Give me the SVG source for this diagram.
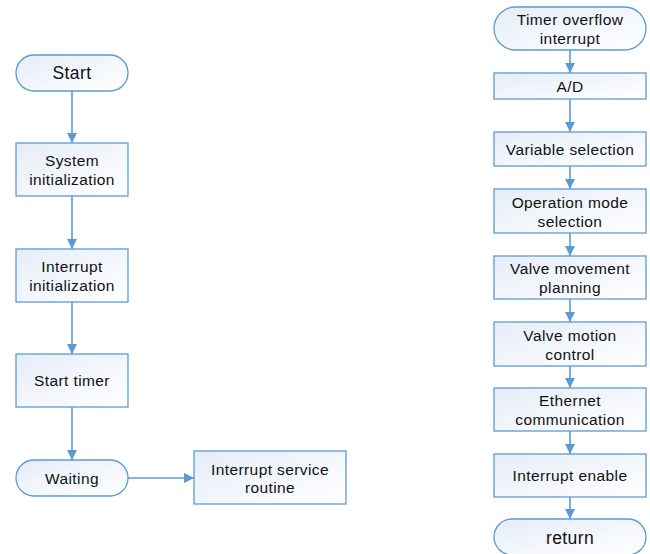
<svg xmlns="http://www.w3.org/2000/svg" width="650" height="554" viewBox="0 0 650 554">
<defs>
<linearGradient id="g" x1="0" y1="0" x2="1" y2="1">
<stop offset="0" stop-color="#e6edf8"/>
<stop offset="1" stop-color="#ffffff"/>
</linearGradient>
<marker id="ah" viewBox="0 0 10 10" refX="10" refY="5" markerWidth="10" markerHeight="10" markerUnits="userSpaceOnUse" orient="auto">
<path d="M0,0 L10,5 L0,10 Z" fill="#5b9bd5"/>
</marker>
<style>
.n{fill:url(#g);stroke:#5b9bd5;stroke-width:1.3}
.t{font-family:"Liberation Sans",Arial,sans-serif;font-size:15.5px;letter-spacing:0.4px;fill:#111;text-anchor:middle}
.tl{font-family:"Liberation Sans",Arial,sans-serif;font-size:17.5px;letter-spacing:0.4px;fill:#111;text-anchor:middle}
.c{stroke:#5b9bd5;stroke-width:1.6;fill:none;marker-end:url(#ah)}
</style>
</defs>
<rect width="650" height="554" fill="#fff"/>
<g id="connectors">
<line class="c" x1="72" y1="91" x2="72" y2="143"/>
<line class="c" x1="72" y1="196" x2="72" y2="249"/>
<line class="c" x1="72" y1="302" x2="72" y2="354"/>
<line class="c" x1="72" y1="407" x2="72" y2="460"/>
<line class="c" x1="128" y1="478" x2="194" y2="478"/>
<line class="c" x1="570" y1="50" x2="570" y2="73"/>
<line class="c" x1="570" y1="99" x2="570" y2="132"/>
<line class="c" x1="570" y1="166" x2="570" y2="189"/>
<line class="c" x1="570" y1="233" x2="570" y2="256"/>
<line class="c" x1="570" y1="299" x2="570" y2="322"/>
<line class="c" x1="570" y1="366" x2="570" y2="388"/>
<line class="c" x1="570" y1="431" x2="570" y2="454"/>
<line class="c" x1="570" y1="497" x2="570" y2="519"/>
</g>
<g id="start"><rect class="n" x="16" y="55" width="112" height="36" rx="18"/><text class="tl" x="72" y="79">Start</text></g>
<g id="sysinit"><rect class="n" x="16" y="143" width="112" height="53"/><text class="t" x="72" y="166">System</text><text class="t" x="72" y="184.5">initialization</text></g>
<g id="intinit"><rect class="n" x="16" y="249" width="112" height="53"/><text class="t" x="72" y="272">Interrupt</text><text class="t" x="72" y="290.5">initialization</text></g>
<g id="starttimer"><rect class="n" x="16" y="354" width="112" height="53"/><text class="t" x="72" y="386">Start timer</text></g>
<g id="waiting"><rect class="n" x="16" y="460" width="112" height="36" rx="18"/><text class="t" x="72" y="483.5">Waiting</text></g>
<g id="isr"><rect class="n" x="194" y="451" width="152" height="53"/><text class="t" x="270" y="474.5">Interrupt service</text><text class="t" x="270" y="493">routine</text></g>
<g id="timeroverflow"><rect class="n" x="494" y="7" width="152" height="43" rx="21.5"/><text class="t" x="570" y="25">Timer overflow</text><text class="t" x="570" y="43.5">interrupt</text></g>
<g id="ad"><rect class="n" x="494" y="73" width="152" height="26"/><text class="t" x="570" y="91.5">A/D</text></g>
<g id="varsel"><rect class="n" x="494" y="132" width="152" height="34"/><text class="t" x="570" y="154.5">Variable selection</text></g>
<g id="opmode"><rect class="n" x="494" y="189" width="152" height="44"/><text class="t" x="570" y="208">Operation mode</text><text class="t" x="570" y="226.5">selection</text></g>
<g id="valveplan"><rect class="n" x="494" y="256" width="152" height="43"/><text class="t" x="570" y="274">Valve movement</text><text class="t" x="570" y="292.5">planning</text></g>
<g id="valvectrl"><rect class="n" x="494" y="322" width="152" height="44"/><text class="t" x="570" y="341">Valve motion</text><text class="t" x="570" y="359.5">control</text></g>
<g id="ethernet"><rect class="n" x="494" y="388" width="152" height="43"/><text class="t" x="570" y="406">Ethernet</text><text class="t" x="570" y="424.5">communication</text></g>
<g id="intenable"><rect class="n" x="494" y="454" width="152" height="43"/><text class="t" x="570" y="481">Interrupt enable</text></g>
<g id="return"><rect class="n" x="494" y="519" width="152" height="36" rx="18"/><text class="tl" x="570" y="543.5">return</text></g>
</svg>
